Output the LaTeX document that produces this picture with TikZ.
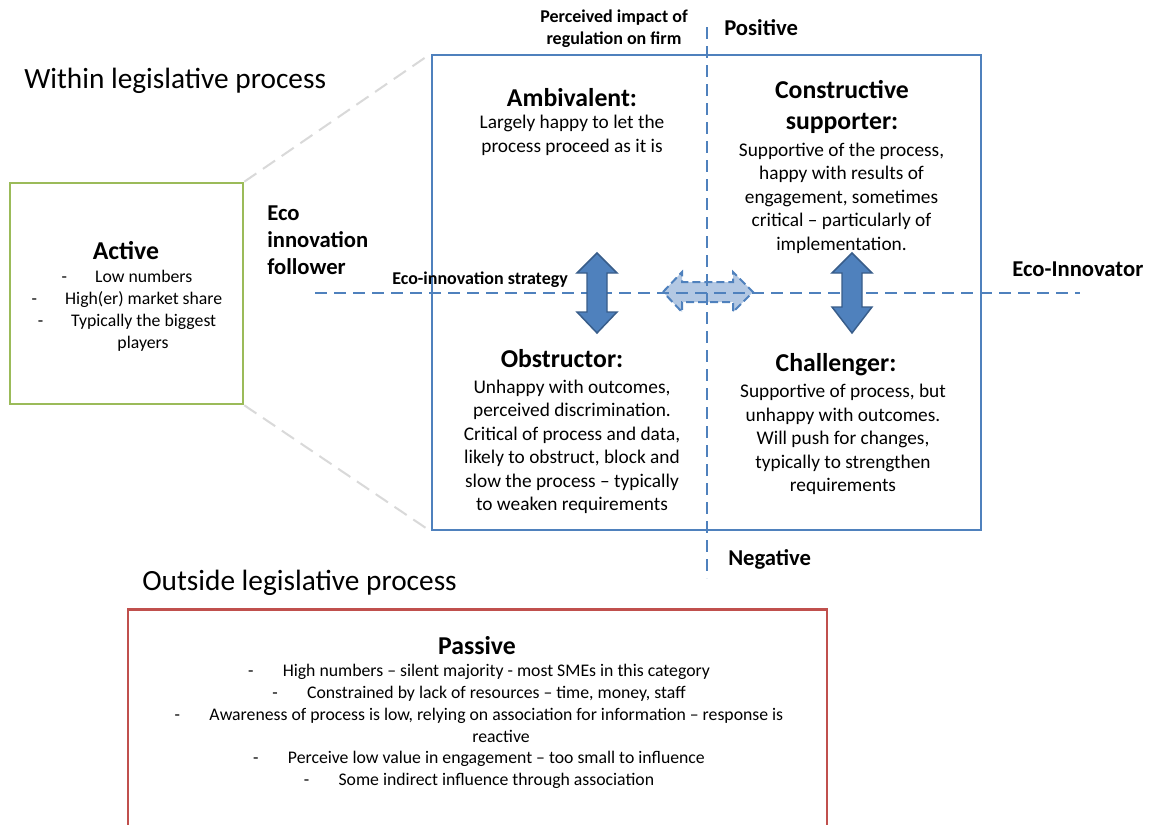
\documentclass[tikz,border=0pt]{standalone}
\usepackage{fontspec}
\setmainfont{Carlito}
\definecolor{axisblue}{HTML}{4F81BD}
\definecolor{arrowedge}{HTML}{385D8A}
\definecolor{lightfill}{HTML}{B3C8E3}
\definecolor{activegreen}{HTML}{9BBB59}
\definecolor{passivered}{HTML}{C0504D}
\definecolor{zoomgrey}{HTML}{D9D9D9}
\begin{document}
\begin{tikzpicture}[x=0.75pt,y=-0.75pt,
  frame/.style={draw, line width=1.9pt, inner sep=0pt},
  axis/.style={draw=axisblue, line width=1.5pt, dash pattern=on 9pt off 5.25pt},
  zoomline/.style={draw=zoomgrey, line width=1.5pt, dash pattern=on 11pt off 6pt},
  title/.style={font=\fontsize{22}{26}\selectfont, inner sep=0pt, anchor=west},
  head/.style={font=\fontsize{19.3}{23.25}\selectfont\bfseries, align=center, inner sep=0pt},
  body/.style={font=\fontsize{14.5}{17.6}\selectfont, align=center, inner sep=0pt},
  bullets/.style={font=\fontsize{13.3}{16.4}\selectfont, align=center, inner sep=0pt},
  axislabel/.style={font=\fontsize{17}{20.25}\selectfont\bfseries, inner sep=0pt, anchor=west},
  smalllabel/.style={font=\fontsize{13.5}{16.8}\selectfont\bfseries, inner sep=0pt},
  darkarrow/.style={fill=axisblue, draw=arrowedge, line width=1.1pt, line join=miter},
  lightarrow/.style={fill=lightfill, draw=axisblue, line width=1.5pt, dash pattern=on 6pt off 3pt}]

\clip (0,0) rectangle (1150,825);
\fill[white] (0,0) rectangle (1150,825);

% boxes
\node[frame, draw=axisblue, minimum width=411.75pt, minimum height=356.25pt] (quad) at (706.5,292.5) {};
\node[frame, draw=activegreen, minimum width=174.75pt, minimum height=165.75pt] (activebox) at (126.5,293.5) {};
\node[frame, draw=passivered, minimum width=524.25pt, minimum height=180pt] (passivebox) at (477.5,729.5) {};

% zoom lines from the active box to the quadrant frame
\draw[zoomline] (activebox.north east) -- (quad.north west);
\draw[zoomline] (activebox.south east) -- (quad.south west);

% light double arrow between the quadrants
\filldraw[lightarrow] (663,292) -- (682,272) -- (682,282) -- (733,282) -- (733,272)
  -- (753,292) -- (733,312) -- (733,302) -- (682,302) -- (682,312) -- cycle;

% axes
\coordinate (vtop) at (707,27);
\coordinate (vbot) at (707,578);
\coordinate (hleft) at (315,293);
\coordinate (hright) at (1080,293);
\draw[axis] (vtop) -- (vbot);
\draw[axis] (hleft) -- (hright);

% vertical double arrows
\filldraw[darkarrow] (597,253) -- (617,273) -- (607,273) -- (607,312) -- (617,312)
  -- (597,333) -- (577,312) -- (587,312) -- (587,273) -- (577,273) -- cycle;
\filldraw[darkarrow] (852,253) -- (872,273) -- (862,273) -- (862,307) -- (872,307)
  -- (852,333) -- (832,307) -- (842,307) -- (842,273) -- (832,273) -- cycle;

% titles
\node[title] (within) at (24,81) {Within legislative process};
\node[title] (outside) at (142,583) {Outside legislative process};

% axis labels
\node[smalllabel, align=center] (impact) at (614,29) {Perceived impact of\\regulation on firm};
\node[axislabel] (positive) at (724,28) {Positive};
\node[axislabel] (negative) at (728,559) {Negative};
\node[axislabel, align=left, font=\fontsize{17}{20.25}\selectfont\bfseries] (follower) at (267,240) {Eco\\innovation\\follower};
\node[smalllabel, anchor=west] (strategy) at (392,280) {Eco-innovation strategy};
\node[axislabel] (innovator) at (1012,269) {Eco-Innovator};

% quadrants
\node[head] (ambhead) at (572,98) {Ambivalent:};
\node[body] (ambbody) at (572,135.5) {Largely happy to let the\\process proceed as it is};

\node[head] (conhead) at (842,106.5) {Constructive\\supporter:};
\node[body] (conbody) at (841.5,198) {Supportive of the process,\\happy with results of\\engagement, sometimes\\critical -- particularly of\\implementation.};

\node[head] (obshead) at (562,359) {Obstructor:};
\node[body] (obsbody) at (572,447) {Unhappy with outcomes,\\perceived discrimination.\\Critical of process and data,\\likely to obstruct, block and\\slow the process -- typically\\to weaken requirements};

\node[head] (chahead) at (836,365) {Challenger:};
\node[body] (chabody) at (843,439.5) {Supportive of process, but\\unhappy with outcomes.\\Will push for changes,\\typically to strengthen\\requirements};

% active stakeholders
\node[head] (acthead) at (126,251) {Active};
\node[bullets] (actbody) at (127,311) {-\hspace{21pt}Low numbers\\-\hspace{21pt}High(er) market share\\-\hspace{21pt}Typically the biggest\\\hspace{24pt}players};

% passive stakeholders
\node[head] (pashead) at (477,646) {Passive};
\node[bullets] (pasbody) at (479,726.5) {-\hspace{22pt}High numbers -- silent majority - most SMEs in this category\\-\hspace{22pt}Constrained by lack of resources -- time, money, staff\\-\hspace{22pt}Awareness of process is low, relying on association for information -- response is\\\hspace{33pt}reactive\\-\hspace{22pt}Perceive low value in engagement -- too small to influence\\-\hspace{22pt}Some indirect influence through association};

\end{tikzpicture}
\end{document}
